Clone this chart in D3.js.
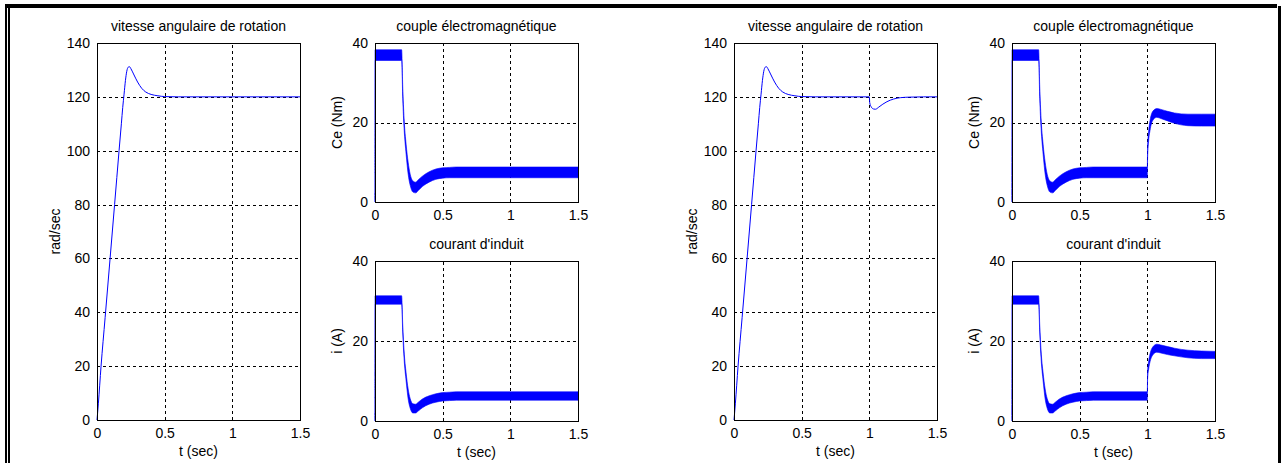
<!DOCTYPE html>
<meta charset="utf-8">
<style>

body {
  margin: 0;
  background: #fff;
}

svg {
  display: block;
}

text {
  font: 14px "Liberation Sans", Arial, sans-serif;
  fill: #000;
}

.grid line {
  stroke: #000;
  stroke-dasharray: 3,3;
  shape-rendering: crispEdges;
}

.grid path {
  display: none;
}

.box {
  fill: none;
  stroke: #000;
  shape-rendering: crispEdges;
}

.band {
  fill: #0000ff;
  stroke: #0000ff;
  stroke-width: .6px;
}

.speed {
  fill: none;
  stroke: #0000ff;
  stroke-width: 1px;
}

</style>
<svg width="1281" height="463"></svg>
<script src="https://d3js.org/d3.v7.min.js"></script>
<script>

// vitesse (rad/sec), essai 1 : sans charge
var tSpeed1 = [0, 0.01, 0.03, 0.06, 0.1, 0.13, 0.163, 0.18, 0.19, 0.2, 0.21, 0.22, 0.23, 0.24, 0.25, 0.27, 0.3, 0.33, 0.36, 0.4, 0.45, 0.5, 0.6, 1.5];
var speed1  = [0, 6, 20, 38, 62, 80, 100, 110, 116, 121, 126, 129.5, 131, 131.2, 130.5, 128.5, 125.5, 123.2, 121.8, 120.9, 120.4, 120.1, 120, 120];

// vitesse, essai 2 : charge appliquee a t = 1 s
var tSpeed2 = [0, 0.01, 0.03, 0.06, 0.1, 0.13, 0.163, 0.18, 0.19, 0.2, 0.21, 0.22, 0.23, 0.24, 0.25, 0.27, 0.3, 0.33, 0.36, 0.4, 0.45, 0.5, 0.6,
               1.0, 1.003, 1.015, 1.03, 1.045, 1.07, 1.1, 1.13, 1.18, 1.23, 1.3, 1.4, 1.5];
var speed2  = [0, 6, 20, 38, 62, 80, 100, 110, 116, 121, 126, 129.5, 131, 131.2, 130.5, 128.5, 125.5, 123.2, 121.8, 120.9, 120.4, 120.1, 120,
               120, 117.8, 116.2, 115.5, 115.4, 116.2, 117.3, 118.2, 119.2, 119.7, 119.9, 120, 120];

// couple et courant : enveloppes haute / basse de l'ondulation
var tBand1 = [0, 0.002, 0.197, 0.205, 0.215, 0.23, 0.245, 0.26, 0.28, 0.3, 0.32, 0.35, 0.4, 0.45, 0.5, 0.55, 0.6, 1.5];
var ceHi1  = [38.3, 38.3, 38.3, 29, 21, 14.5, 10, 7, 5.3, 5.0, 5.6, 6.5, 7.6, 8.3, 8.6, 8.7, 8.8, 8.8];
var ceLo1  = [0, 35.6, 35.6, 26, 18.5, 12, 7, 4.2, 2.5, 2.3, 2.9, 3.9, 5.0, 5.7, 6.0, 6.1, 6.1, 6.1];
var iHi1   = [31.3, 31.3, 31.3, 24, 17.5, 12, 8, 5.6, 4.3, 4.2, 4.7, 5.5, 6.3, 6.8, 7.1, 7.2, 7.3, 7.3];
var iLo1   = [0, 29.2, 29.2, 22, 15.5, 10, 5.5, 3.2, 2.0, 2.0, 2.5, 3.3, 4.2, 4.7, 5.0, 5.1, 5.2, 5.2];

var tBand2 = [0, 0.002, 0.197, 0.205, 0.215, 0.23, 0.245, 0.26, 0.28, 0.3, 0.32, 0.35, 0.4, 0.45, 0.5, 0.55, 0.6,
              1.0, 1.002, 1.01, 1.02, 1.04, 1.07, 1.1, 1.15, 1.2, 1.3, 1.4, 1.5];
var ceHi2  = [38.3, 38.3, 38.3, 29, 21, 14.5, 10, 7, 5.3, 5.0, 5.6, 6.5, 7.6, 8.3, 8.6, 8.7, 8.8,
              8.8, 14, 18, 20.5, 22.8, 23.5, 23.3, 22.8, 22.4, 22.1, 22.1, 22.1];
var ceLo2  = [0, 35.6, 35.6, 26, 18.5, 12, 7, 4.2, 2.5, 2.3, 2.9, 3.9, 5.0, 5.7, 6.0, 6.1, 6.1,
              6.1, 11, 15.5, 18, 20.5, 21.3, 21, 20.4, 19.8, 19.2, 19.1, 19.1];
var iHi2   = [31.3, 31.3, 31.3, 24, 17.5, 12, 8, 5.6, 4.3, 4.2, 4.7, 5.5, 6.3, 6.8, 7.1, 7.2, 7.3,
              7.3, 12.5, 15, 16.8, 18.5, 19.2, 19.0, 18.6, 18.2, 17.7, 17.5, 17.4];
var iLo2   = [0, 29.2, 29.2, 22, 15.5, 10, 5.5, 3.2, 2.0, 2.0, 2.5, 3.3, 4.2, 4.7, 5.0, 5.1, 5.2,
              5.2, 10.5, 13, 14.8, 16.5, 17.2, 17.0, 16.6, 16.3, 15.8, 15.6, 15.6];

var xTicks = [0, 0.5, 1, 1.5];
var speedTicks = [0, 20, 40, 60, 80, 100, 120, 140];
var smallTicks = [0, 20, 40];

var svg = d3.select("svg"),
    fmt = d3.format("~g");

// cadre de la figure
svg.append("rect").attr("x", 5).attr("y", 4).attr("width", 1272).attr("height", 4);
svg.append("rect").attr("x", 5).attr("y", 4).attr("width", 2).attr("height", 459);
svg.append("rect").attr("x", 8).attr("y", 8).attr("width", 2).attr("height", 455);
svg.append("rect").attr("x", 1278).attr("y", 6).attr("width", 3).attr("height", 457);

function panel(x0, y0, w, h, ymax, yticks, title, ylabel, ylabOff) {
  var g = svg.append("g").attr("transform", "translate(" + x0 + "," + y0 + ")");
  var x = d3.scaleLinear().domain([0, 1.5]).range([0, w]),
      y = d3.scaleLinear().domain([0, ymax]).range([h, 0]);

  g.append("g").attr("class", "grid")
      .attr("transform", "translate(0," + h + ")")
      .call(d3.axisBottom(x).tickValues([0.5, 1]).tickSize(-h).tickFormat(""));
  g.append("g").attr("class", "grid")
      .call(d3.axisLeft(y).tickValues(yticks.slice(1, -1)).tickSize(-w).tickFormat(""));

  var xa = g.append("g")
      .attr("transform", "translate(0," + h + ")")
      .call(d3.axisBottom(x).tickValues(xTicks).tickSize(0).tickPadding(8).tickFormat(fmt));
  xa.select(".domain").remove();
  var ya = g.append("g")
      .call(d3.axisLeft(y).tickValues(yticks).tickSize(0).tickPadding(7).tickFormat(fmt));
  ya.select(".domain").remove();

  g.append("text")
      .attr("x", w / 2).attr("y", -12)
      .attr("text-anchor", "middle")
      .text(title);
  g.append("text")
      .attr("transform", "translate(" + (-ylabOff) + "," + (h / 2) + ")rotate(-90)")
      .attr("text-anchor", "middle")
      .text(ylabel);

  return {g: g, x: x, y: y, w: w, h: h};
}

function xlabel(p) {
  p.g.append("text")
      .attr("x", p.w / 2).attr("y", p.h + 36)
      .attr("text-anchor", "middle")
      .text("t (sec)");
}

function box(p) {
  p.g.append("rect").attr("class", "box")
      .attr("x", 0).attr("y", 0)
      .attr("width", p.w).attr("height", p.h);
}

function drawSpeed(p, t, v) {
  var line = d3.line()
      .x(function(d, i) { return p.x(t[i]); })
      .y(function(d) { return p.y(d); })
      .curve(d3.curveMonotoneX);
  p.g.append("path").attr("class", "speed").attr("d", line(v));
}

function drawBand(p, t, hi, lo) {
  var area = d3.area()
      .x(function(d, i) { return p.x(t[i]); })
      .y0(function(d, i) { return p.y(lo[i]); })
      .y1(function(d, i) { return p.y(hi[i]); })
      .curve(d3.curveMonotoneX);
  p.g.append("path").attr("class", "band").attr("d", area(hi));
}

var runs = [
  {dx: 0,   tS: tSpeed1, s: speed1, tB: tBand1, ceHi: ceHi1, ceLo: ceLo1, iHi: iHi1, iLo: iLo1},
  {dx: 637, tS: tSpeed2, s: speed2, tB: tBand2, ceHi: ceHi2, ceLo: ceLo2, iHi: iHi2, iLo: iLo2}
];

runs.forEach(function(r) {
  var pw = panel(97 + r.dx, 43, 203, 377, 140, speedTicks, "vitesse angulaire de rotation", "rad/sec", 37);
  drawSpeed(pw, r.tS, r.s);
  xlabel(pw);
  box(pw);

  var pc = panel(375 + r.dx, 43, 203, 159, 40, smallTicks, "couple électromagnétique", "Ce (Nm)", 33);
  drawBand(pc, r.tB, r.ceHi, r.ceLo);
  box(pc);

  var pi = panel(375 + r.dx, 261, 203, 160, 40, smallTicks, "courant d'induit", "i (A)", 33);
  drawBand(pi, r.tB, r.iHi, r.iLo);
  xlabel(pi);
  box(pi);
});

</script>
